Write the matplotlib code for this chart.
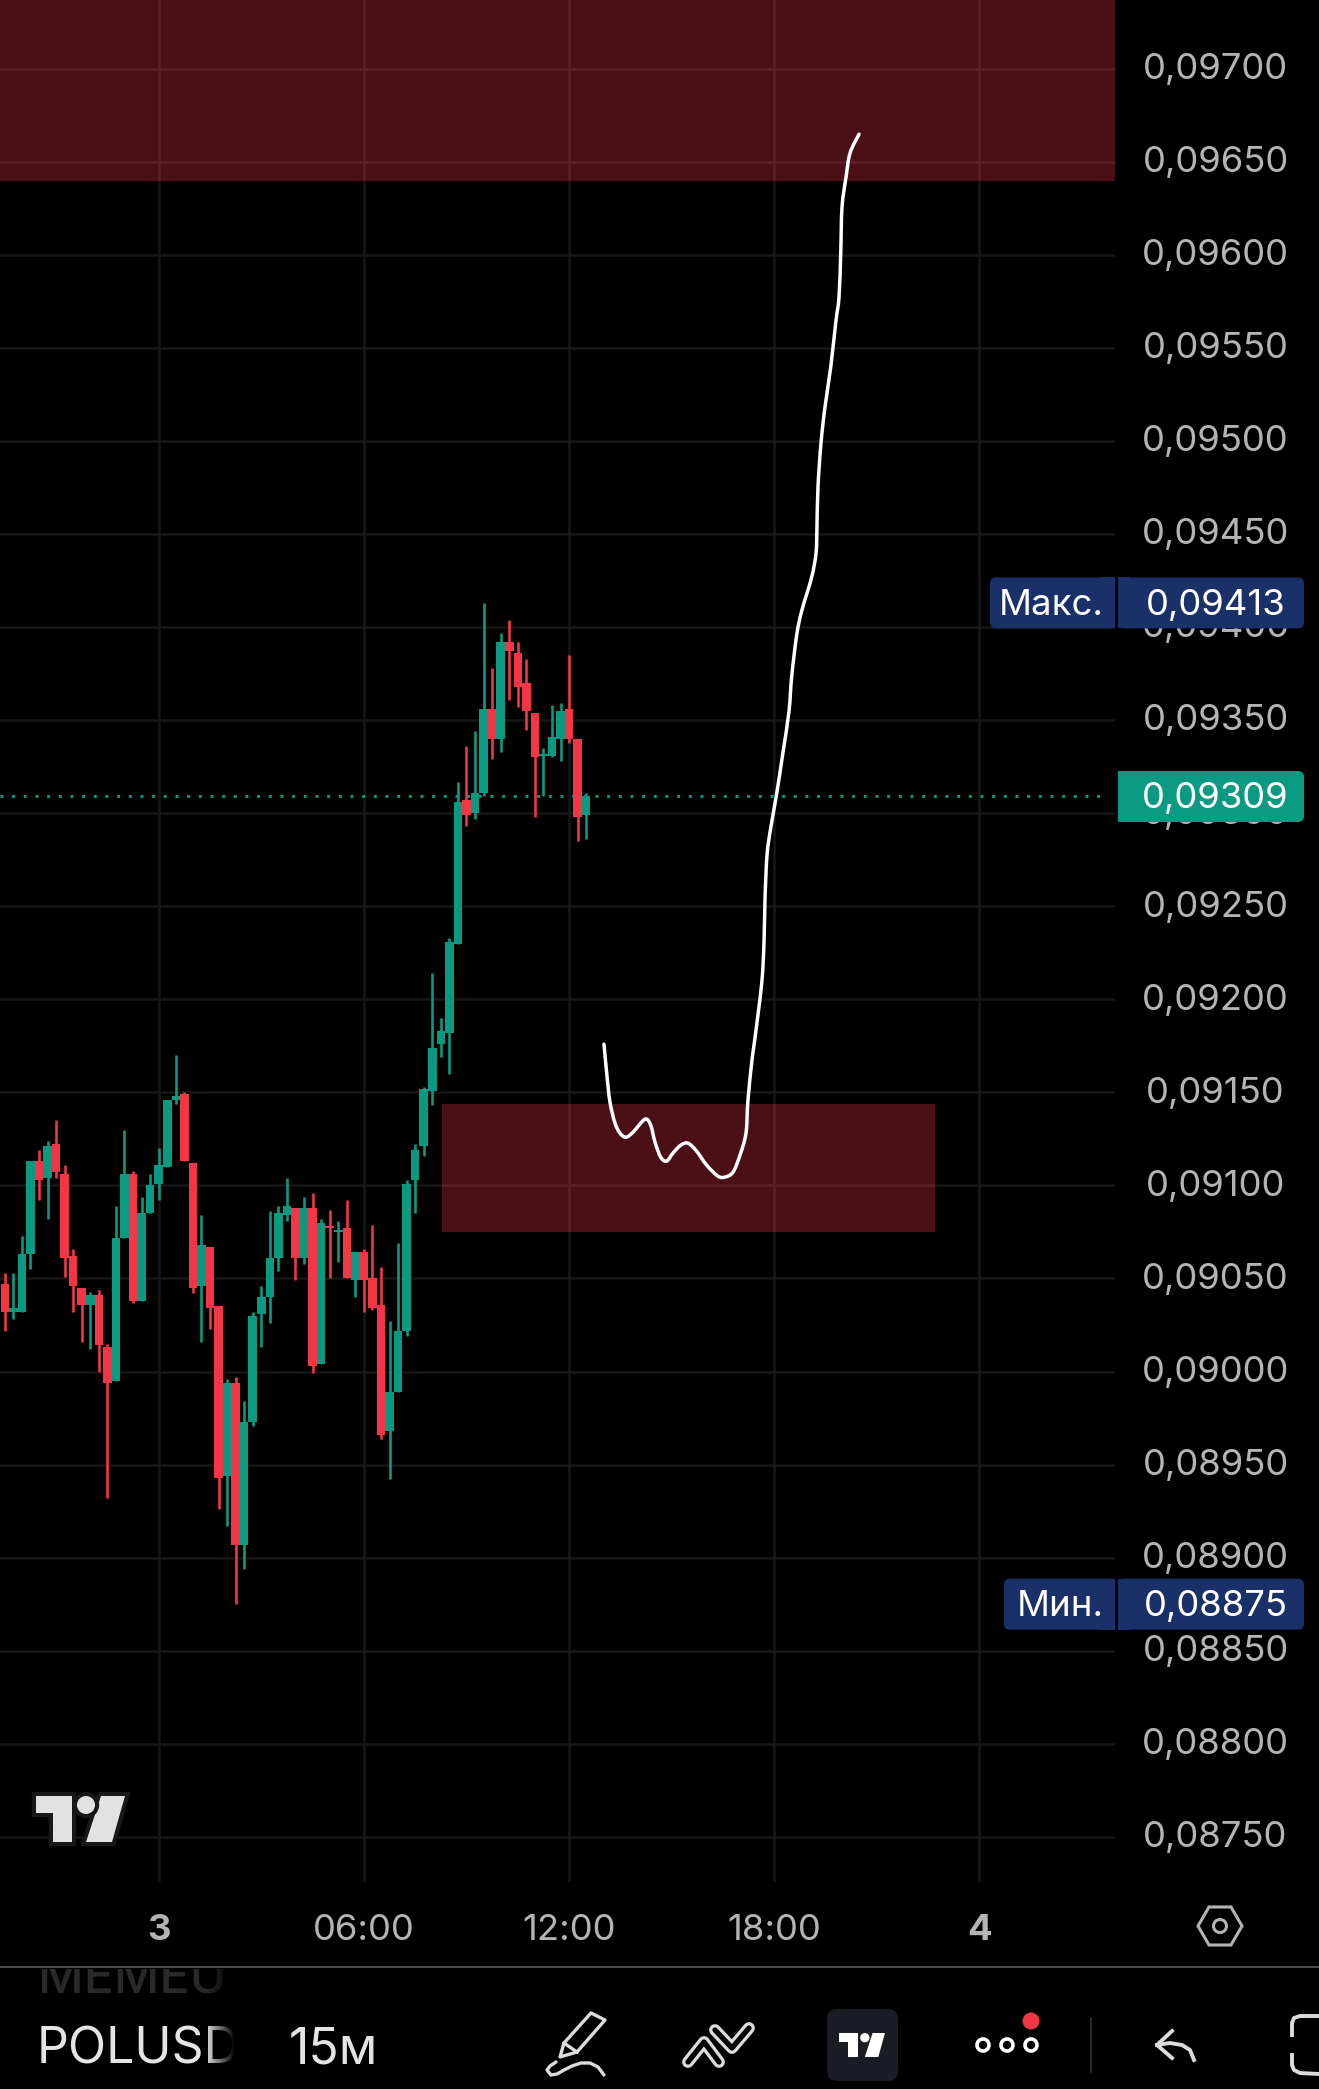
import numpy as np
import matplotlib
matplotlib.use("Agg")
import matplotlib.pyplot as plt
from matplotlib.patches import Polygon, Circle, Rectangle, FancyBboxPatch, PathPatch
from matplotlib.path import Path
from matplotlib.transforms import ScaledTranslation
import matplotlib.patheffects as pe

plt.rcParams['font.family'] = ['Inter', 'DejaVu Sans']

# candles, prices in units of 0.00001, bar index counted from the "3" tick
first_bar = -18
opens = [9047, 9032, 9032, 9063, 9113, 9104, 9122, 9106, 9062, 9045, 9036, 9041, 9013, 8995, 9072, 9106,
         9038, 9085, 9101, 9110, 9146, 9149, 9112, 9046, 9067, 9035, 8944, 8994, 8907, 8973, 9031, 9040,
         9061, 9084, 9088, 9061, 9088, 9004, 9078, 9075, 9077, 9049, 9064, 9050, 9036, 8968, 8989, 9022,
         9103, 9121, 9151, 9176, 9182, 9230, 9307, 9300, 9311, 9356, 9340, 9392, 9386, 9370, 9354, 9331,
         9331, 9340, 9356, 9340, 9299]
closes = [9032, 9034, 9063, 9113, 9103, 9121, 9107, 9061, 9046, 9036, 9041, 9014, 8994, 9072, 9106, 9038,
          9085, 9100, 9111, 9146, 9148, 9113, 9045, 9068, 9034, 8943, 8994, 8907, 8973, 9030, 9040, 9061,
          9085, 9089, 9061, 9088, 9003, 9080, 9077, 9076, 9050, 9064, 9049, 9034, 8966, 8989, 9022, 9101,
          9119, 9152, 9174, 9183, 9231, 9306, 9299, 9311, 9356, 9340, 9392, 9387, 9368, 9355, 9330, 9332,
          9341, 9355, 9340, 9298, 9309]
highs = [9053, 9053, 9073, 9113, 9119, 9124, 9135, 9111, 9066, 9045, 9043, 9044, 9015, 9089, 9130, 9108,
         9094, 9106, 9120, 9146, 9170, 9150, 9112, 9084, 9067, 9035, 8996, 8997, 8984, 9032, 9046, 9086,
         9089, 9104, 9088, 9094, 9096, 9082, 9087, 9081, 9092, 9064, 9066, 9079, 9056, 9027, 9069, 9103,
         9122, 9153, 9214, 9190, 9233, 9317, 9336, 9344, 9413, 9378, 9397, 9404, 9392, 9383, 9354, 9335,
         9358, 9359, 9385, 9340, 9311]
lows = [9022, 9028, 9032, 9055, 9092, 9082, 9104, 9051, 9032, 9016, 9012, 9000, 8932, 8995, 9072, 9037,
        9038, 9085, 9092, 9110, 9144, 9113, 9042, 9016, 9023, 8926, 8917, 8875, 8894, 8971, 9013, 9026,
        9054, 9081, 9049, 9058, 8999, 9004, 9050, 9059, 9050, 9040, 9032, 9033, 8964, 8942, 8989, 9019,
        9085, 9116, 9143, 9169, 9160, 9230, 9293, 9297, 9309, 9329, 9333, 9361, 9357, 9345, 9298, 9309,
        9330, 9328, 9338, 9285, 9286]

# the hand drawn curve, same units
drawn_bars = [52.08, 52.40, 52.78, 53.37, 53.95, 54.65, 55.47, 56.88, 57.54, 58.05, 58.71, 59.42, 60.15,
              61.05, 61.91, 62.92, 64.09, 65.41, 66.23, 67.17, 67.99, 68.69, 68.92, 69.39, 69.74, 70.53,
              70.80, 70.91, 71.15, 71.58, 72.28, 73.02, 73.72, 74.04, 74.62, 75.20, 76.37, 76.88, 76.99,
              77.11, 77.46, 77.93, 78.60, 79.22, 79.57, 79.77, 79.92, 80.39, 80.86, 81.91]
drawn_prices = [9175.9, 9160.3, 9144.8, 9133.5, 9128.1, 9125.9, 9128.6, 9135.6, 9132.4, 9123.3, 9115.2,
                9113.1, 9117.4, 9121.6, 9122.7, 9118.4, 9110.9, 9105.0, 9104.5, 9107.1, 9116.3, 9128.1,
                9145.8, 9167.3, 9179.1, 9208.7, 9230.9, 9253.3, 9277.5, 9292.0, 9310.5, 9332.8, 9354.8,
                9373.6, 9395.7, 9408.6, 9426.8, 9439.7, 9453.7, 9475.2, 9498.8, 9518.2, 9539.7, 9564.9,
                9577.3, 9600.9, 9625.6, 9641.8, 9654.7, 9664.9]

zone_top_low = 0.0964
zone_low_high = 0.09144
zone_low_low = 0.09075
zone_low_from = 33.1
zone_low_to = 90.8

price_ticks = [0.0875 + 0.0005 * i for i in range(20)]
time_ticks = [0, 24, 48, 72, 96]
time_labels = ['3', '06:00', '12:00', '18:00', '4']
last_price = 0.09309
max_price = 0.09413
min_price = 0.08875

GREEN = '#0a9a82'
RED = '#f23645'
GRID = '#171717'
TICK = '#b4b4b4'
NAVY = '#1a3068'
W, H = 1319, 2089
PLOT_R, PLOT_B = 1115, 1882
PRICE_TOP = 0.09737
PRICE_BOT = 0.087257
FS = 26.3

fig = plt.figure(figsize=(W / 100, H / 100), dpi=100, facecolor='black')
ax = fig.add_axes([0, 1 - PLOT_B / H, PLOT_R / W, PLOT_B / H], facecolor='black')
ax.set_xlim(-18.56, 111.85)
ax.set_ylim(PRICE_BOT, PRICE_TOP)
for s in ax.spines.values():
    s.set_visible(False)

ax.yaxis.tick_right()
ax.set_yticks(price_ticks)
ax.set_yticklabels([f"{v:.5f}".replace('.', ',') for v in price_ticks], fontsize=FS, color=TICK)
ax.tick_params(axis='y', length=0, pad=72.4)
lift = ScaledTranslation(0, 2.7 / 100, fig.dpi_scale_trans)
for lab in ax.get_yticklabels():
    lab.set_ha('center')
    lab.set_va('center_baseline')
    lab.set_transform(lab.get_transform() + lift)
ax.set_xticks(time_ticks)
ax.set_xticklabels(time_labels, fontsize=FS, color=TICK)
ax.tick_params(axis='x', length=0, pad=23)
for lab in ax.get_xticklabels():
    if lab.get_text() in ('3', '4'):
        lab.set_fontweight('bold')
ax.grid(True, color=GRID, linewidth=1.8)
ax.set_axisbelow(True)

# zones
ax.axhspan(zone_top_low, PRICE_TOP, facecolor=RED, alpha=0.31, linewidth=0, zorder=1)
ax.fill_between([zone_low_from, zone_low_to], zone_low_low, zone_low_high, facecolor=RED, alpha=0.31,
                linewidth=0, zorder=1)

# candles
o = np.array(opens) / 1e5
c = np.array(closes) / 1e5
hi = np.array(highs) / 1e5
lo = np.array(lows) / 1e5
bars = np.arange(len(o)) + first_bar
colors = [GREEN if b >= a else RED for a, b in zip(o, c)]
ax.vlines(bars, lo, hi, colors=colors, linewidth=1.9, zorder=3)
ax.bar(bars, np.abs(c - o), bottom=np.minimum(o, c), width=1.0, color=colors, linewidth=0, zorder=4)

ax.axhline(last_price, xmax=1108 / PLOT_R, color=GREEN, linewidth=2.1, linestyle=(0, (1, 3)), zorder=2)

# pen stroke as a bezier through the read points
pts = np.column_stack([drawn_bars, np.array(drawn_prices) / 1e5])
verts = [pts[0]]
codes = [Path.MOVETO]
for i in range(len(pts) - 1):
    before = pts[max(i - 1, 0)]
    after = pts[min(i + 2, len(pts) - 1)]
    verts += [pts[i] + (pts[i + 1] - before) / 6, pts[i + 1] - (after - pts[i]) / 6, pts[i + 1]]
    codes += [Path.CURVE4] * 3
ax.add_patch(PathPatch(Path(verts, codes), fill=False, edgecolor='white', linewidth=2.5, capstyle='round',
                       joinstyle='round', zorder=5))

# everything below sits on a full size pixel axes: labels, logo, toolbar
ui = fig.add_axes([0, 0, 1, 1], facecolor='none')
ui.axis('off')


def py(price):
    # pixel row of a price on the chart
    return PLOT_B * (PRICE_TOP - price) / (PRICE_TOP - PRICE_BOT)


def round_box(x0, x1, yc, color):
    ui.add_patch(FancyBboxPatch((x0 + 5, yc - 20.5), x1 - x0 - 10, 41, boxstyle='round,pad=5,rounding_size=6',
                                facecolor=color, edgecolor='none'))


for price, col in [(max_price, NAVY), (last_price, GREEN), (min_price, NAVY)]:
    yc = py(price)
    round_box(1118, 1304, yc, col)
    ui.add_patch(Rectangle((1118, yc - 25.5), 12, 51, facecolor=col, edgecolor='none'))
    ui.text(1215.5, yc - 1, f"{price:.5f}".replace('.', ','), color='white', fontsize=FS, va='center_baseline', ha='center')
for price, name, x0 in [(max_price, 'Макс.', 990), (min_price, 'Мин.', 1004)]:
    yc = py(price)
    round_box(x0, 1115, yc, NAVY)
    ui.add_patch(Rectangle((1100, yc - 25.5), 15, 51, facecolor=NAVY, edgecolor='none'))
    ui.text(1104, yc - 1, name, color='white', fontsize=FS, va='center_baseline', ha='right')


def tv_logo(x0, y0, w, h, color, halo=None):
    sx, sy = w / 89, h / 46
    t = [(0, 0), (36, 0), (36, 46), (17, 46), (17, 17), (0, 17)]
    slash = [(65, 0), (89, 0), (76, 46), (50, 46)]
    items = [Polygon([(x0 + a * sx, y0 + b * sy) for a, b in t], facecolor=color, edgecolor='none'),
             Polygon([(x0 + a * sx, y0 + b * sy) for a, b in slash], facecolor=color, edgecolor='none'),
             Circle((x0 + 50 * sx, y0 + 9 * sy), 9 * sx, facecolor=color, edgecolor='none')]
    for it in items:
        if halo:
            it.set_path_effects([pe.withStroke(linewidth=6, foreground=halo)])
        ui.add_patch(it)


tv_logo(36, 1796, 89, 46, '#e2e2e2', halo='#181818')

# bottom toolbar
ui.plot([0, W], [1967, 1967], color='#5a5a5a', linewidth=1.2)
t = ui.text(38, 1993, 'MEMEUS', color='#292929', fontsize=36, va='baseline', ha='left', fontweight='medium', clip_on=True)
t.set_clip_path(Rectangle((0, 1969), W, 60, transform=ui.transData))
ui.text(37, 2063, 'POLUSD', color='#e4e4e4', fontsize=36, va='baseline', ha='left')
ui.add_patch(Rectangle((235, 1968), 50, 110, facecolor='black', edgecolor='none', zorder=6))
fade = np.zeros((1, 30, 4))
fade[0, :, 3] = np.linspace(0, 1, 30)
ui.imshow(fade, extent=(205, 235, 2078, 1968), aspect='auto', zorder=6)
ui.text(289, 2063, '15м', color='#e4e4e4', fontsize=36, va='baseline', ha='left')

ICON = '#dcdcdc'
# settings hexagon
ui.add_patch(Polygon([(1198, 1926), (1209, 1907), (1231, 1907), (1242, 1926), (1231, 1945), (1209, 1945)],
                     closed=True, fill=False, edgecolor=TICK, linewidth=2.2))
ui.add_patch(Circle((1220, 1926), 6.5, fill=False, edgecolor=TICK, linewidth=2.2))
# pencil
ui.add_patch(Polygon([(560, 2057), (564, 2043), (591, 2013), (605, 2020), (577, 2052)], closed=True, fill=False,
                     edgecolor=ICON, linewidth=2.4, joinstyle='round'))
ui.plot([564, 577], [2043, 2052], color=ICON, linewidth=2.4)
ui.plot([604, 598, 590, 581, 572, 564, 557, 551, 547, 550, 556], [2075, 2067, 2063, 2063, 2066, 2070, 2074, 2075, 2070, 2066, 2062],
        color=ICON, linewidth=2.4, solid_capstyle='round')
# drawing tools icon
for xs, ys in [([688, 704, 719], [2062, 2042, 2062]), ([715, 732, 749], [2030, 2048, 2028])]:
    ui.plot(xs, ys, color=ICON, linewidth=8.5, solid_capstyle='round', solid_joinstyle='round')
for xs, ys in [([688, 704, 719], [2062, 2042, 2062]), ([715, 732, 749], [2030, 2048, 2028])]:
    ui.plot(xs, ys, color='black', linewidth=3.8, solid_capstyle='round', solid_joinstyle='round')
# tv button
ui.add_patch(FancyBboxPatch((837, 2019), 51, 52, boxstyle='round,pad=10,rounding_size=10', facecolor='#1a1c26', edgecolor='none'))
tv_logo(839, 2033, 46, 24, 'white')
# more
for x in (983, 1007, 1031):
    ui.add_patch(Circle((x, 2045), 6, fill=False, edgecolor='white', linewidth=2.6))
ui.add_patch(Circle((1031, 2021), 8.5, facecolor=RED, edgecolor='none'))
ui.plot([1091, 1091], [2018, 2072], color='#333333', linewidth=1.2)
# undo
ui.plot([1172, 1157, 1172], [2031, 2045, 2058], color=ICON, linewidth=2.8, solid_joinstyle='round')
ui.plot([1157, 1170, 1182, 1190, 1194], [2045, 2043, 2045, 2050, 2060], color=ICON, linewidth=2.8)
# fullscreen corners
ui.plot([1319, 1300, 1294, 1292, 1292], [2016, 2016, 2018, 2023, 2035], color=ICON, linewidth=2.8)
ui.plot([1319, 1300, 1294, 1292, 1292], [2074, 2073, 2070, 2065, 2055], color=ICON, linewidth=2.8)

ui.set_xlim(0, W)
ui.set_ylim(H, 0)

fig.savefig('out.png', dpi=100, facecolor='black')
